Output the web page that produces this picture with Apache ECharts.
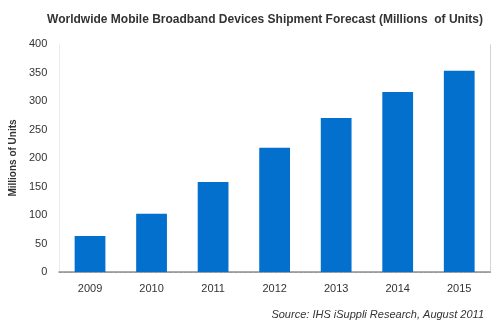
<!DOCTYPE html>
<html><head><meta charset="utf-8">
<script src="https://cdn.jsdelivr.net/npm/echarts@6/dist/echarts.min.js"></script>
<style>html,body{margin:0;padding:0;background:#fff}#c{width:500px;height:325px}</style>
</head><body><div id="c"></div>
<script>
const categories = ['2009','2010','2011','2012','2013','2014','2015'];
const shipments = [63, 102, 158, 218, 270, 316, 353];
const titleText = 'Worldwide Mobile Broadband Devices Shipment Forecast (Millions  of Units)';
const yAxisName = 'Millions of Units';
const sourceText = 'Source: IHS iSuppli Research, August 2011';

const chart = echarts.init(document.getElementById('c'), null, {renderer:'canvas'});
chart.setOption({
  animation:false,
  backgroundColor:'#fff',
  title:[{
    text:titleText, left:260, top:9, textAlign:'center',
    textStyle:{fontFamily:'Liberation Sans, Arial', fontWeight:'bold', fontSize:12, color:'#333'}
  },{
    text:sourceText, right:11, top:304,
    textStyle:{fontFamily:'Liberation Sans, Arial', fontStyle:'italic', fontWeight:'normal', fontSize:11, color:'#333'}
  }],
  grid:{left:58, right:10, top:44, bottom:53, show:false},
  xAxis:[{
    type:'category', data:categories,
    axisLine:{lineStyle:{color:'#aaa', width:2}},
    axisTick:{show:false},
    axisLabel:{fontFamily:'Liberation Sans, Arial', fontSize:11, color:'#333', margin:11}
  },{
    type:'category', data:categories, position:'top',
    axisLine:{lineStyle:{color:'#999', width:1, type:[3,2]}},
    axisTick:{show:false}, axisLabel:{show:false}
  }],
  yAxis:[{
    type:'value', min:0, max:400, interval:50,
    name:yAxisName, nameLocation:'middle', nameGap:29, nameRotate:90,
    nameTextStyle:{fontFamily:'Liberation Sans, Arial', fontWeight:'bold', fontSize:10, color:'#333'},
    axisLine:{show:true, lineStyle:{color:'#e6e6e6', type:'dotted'}}, axisTick:{show:false},
    splitLine:{show:false},
    axisLabel:{fontFamily:'Liberation Sans, Arial', fontSize:11, color:'#333', margin:12}
  },{
    type:'value', min:0, max:400, interval:50, position:'right',
    axisLine:{show:true, lineStyle:{color:'#c8c8c8', type:'dotted'}}, axisTick:{show:false},
    splitLine:{show:false}, axisLabel:{show:false}
  }],
  series:[{
    type:'bar', data:shipments, barWidth:'50%',
    itemStyle:{color:'#0270CC'}
  }]
});
</script></body></html>
